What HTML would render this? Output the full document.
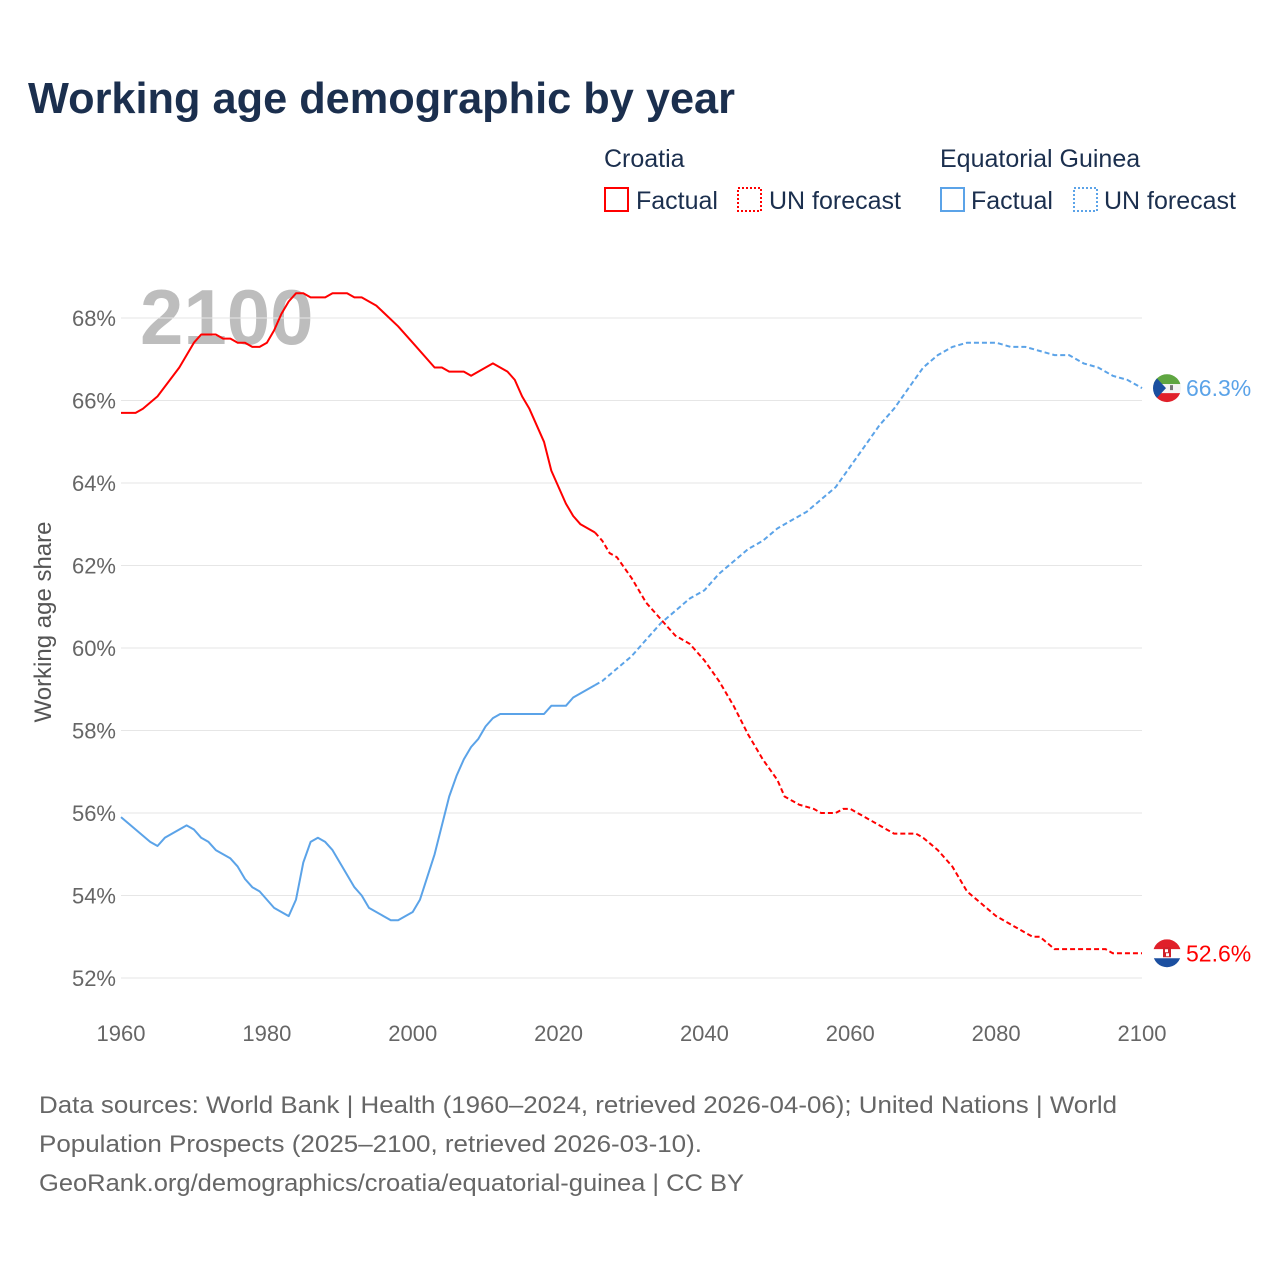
<!DOCTYPE html>
<html><head><meta charset="utf-8">
<style>
body{margin:0;background:#fff;width:1280px;height:1280px;overflow:hidden;font-family:"Liberation Sans",sans-serif}
svg text{font-family:"Liberation Sans",sans-serif}
</style></head>
<body>
<svg id="chart" width="1280" height="1280" viewBox="0 0 1280 1280">
<text x="28" y="113" font-size="44" font-weight="bold" fill="#1b2f4e" textLength="707" lengthAdjust="spacingAndGlyphs">Working age demographic by year</text>
<g font-size="25" fill="#1b2f4e">
<text x="604" y="167">Croatia</text>
<text x="940" y="167">Equatorial Guinea</text>
<g><rect x="605" y="188" width="23" height="23" fill="none" stroke="#f00" stroke-width="2"/><text x="636" y="209">Factual</text></g>
<g><rect x="738" y="188" width="23" height="23" fill="none" stroke="#f00" stroke-width="2" stroke-dasharray="2,2"/><text x="769" y="209">UN forecast</text></g>
<g><rect x="941" y="188" width="23" height="23" fill="none" stroke="#5ba3e8" stroke-width="2"/><text x="971" y="209">Factual</text></g>
<g><rect x="1074" y="188" width="23" height="23" fill="none" stroke="#5ba3e8" stroke-width="2" stroke-dasharray="2,2"/><text x="1104" y="209">UN forecast</text></g>
</g>
<text x="140" y="344" font-size="78" font-weight="bold" fill="#bdbdbd">2100</text>
<text transform="translate(51,622) rotate(-90)" text-anchor="middle" font-size="24" fill="#555">Working age share</text>
<g id="grid"></g><g id="lines"></g><g id="labels"></g>
<g font-size="24" fill="#666">
<text x="39" y="1113" textLength="1078" lengthAdjust="spacingAndGlyphs">Data sources: World Bank | Health (1960–2024, retrieved 2026-04-06); United Nations | World</text>
<text x="39" y="1152" textLength="663" lengthAdjust="spacingAndGlyphs">Population Prospects (2025–2100, retrieved 2026-03-10).</text>
<text x="39" y="1191" textLength="705" lengthAdjust="spacingAndGlyphs">GeoRank.org/demographics/croatia/equatorial-guinea | CC BY</text>
</g>
</svg>
<script>
const yTicks=[52,54,56,58,60,62,64,66,68];
const xTicks=[1960,1980,2000,2020,2040,2060,2080,2100];
const hrYears=[1960,1962,1963,1965,1968,1970,1971,1973,1974,1975,1976,1977,1978,1979,1980,1981,1982,1983,1984,1985,1986,1988,1989,1991,1992,1993,1995,1998,2000,2003,2004,2005,2007,2008,2010,2011,2013,2014,2015,2016,2018,2019,2021,2022,2023,2025,2026,2027,2028,2030,2032,2034,2036,2038,2040,2042,2044,2046,2048,2050,2051,2053,2055,2056,2058,2059,2060,2062,2064,2066,2069,2070,2072,2074,2076,2078,2080,2082,2085,2086,2088,2090,2095,2096,2100];
const hrVals=[65.7,65.7,65.8,66.1,66.8,67.4,67.6,67.6,67.5,67.5,67.4,67.4,67.3,67.3,67.4,67.7,68.1,68.4,68.6,68.6,68.5,68.5,68.6,68.6,68.5,68.5,68.3,67.8,67.4,66.8,66.8,66.7,66.7,66.6,66.8,66.9,66.7,66.5,66.1,65.8,65.0,64.3,63.5,63.2,63.0,62.8,62.6,62.3,62.2,61.7,61.1,60.7,60.3,60.1,59.7,59.2,58.6,57.9,57.3,56.8,56.4,56.2,56.1,56.0,56.0,56.1,56.1,55.9,55.7,55.5,55.5,55.4,55.1,54.7,54.1,53.8,53.5,53.3,53.0,53.0,52.7,52.7,52.7,52.6,52.6];
const gqYears=[1960,1962,1964,1965,1966,1968,1969,1970,1971,1972,1973,1975,1976,1977,1978,1979,1981,1983,1984,1985,1986,1987,1988,1989,1990,1992,1993,1994,1996,1997,1998,2000,2001,2003,2005,2006,2007,2008,2009,2010,2011,2012,2018,2019,2021,2022,2025,2026,2028,2030,2032,2034,2036,2038,2040,2042,2044,2046,2048,2050,2052,2054,2056,2058,2060,2062,2064,2066,2068,2070,2072,2074,2076,2080,2082,2084,2086,2088,2090,2092,2094,2096,2098,2100];
const gqVals=[55.9,55.6,55.3,55.2,55.4,55.6,55.7,55.6,55.4,55.3,55.1,54.9,54.7,54.4,54.2,54.1,53.7,53.5,53.9,54.8,55.3,55.4,55.3,55.1,54.8,54.2,54.0,53.7,53.5,53.4,53.4,53.6,53.9,55.0,56.4,56.9,57.3,57.6,57.8,58.1,58.3,58.4,58.4,58.6,58.6,58.8,59.1,59.2,59.5,59.8,60.2,60.6,60.9,61.2,61.4,61.8,62.1,62.4,62.6,62.9,63.1,63.3,63.6,63.9,64.4,64.9,65.4,65.8,66.3,66.8,67.1,67.3,67.4,67.4,67.3,67.3,67.2,67.1,67.1,66.9,66.8,66.6,66.5,66.3];
const lastFactual=2025;
const X=y=>121+(y-1960)*(1142-121)/140;
const Y=v=>978-(v-52)*(978-318)/16;
const NS='http://www.w3.org/2000/svg';
function mk(tag,attrs,parent){const e=document.createElementNS(NS,tag);for(const k in attrs)e.setAttribute(k,attrs[k]);parent.appendChild(e);return e;}
const grid=document.getElementById('grid'),lines=document.getElementById('lines'),labels=document.getElementById('labels');
yTicks.forEach(t=>{
 const l=mk('line',{x1:121,x2:1142,y1:Y(t),y2:Y(t),stroke:'#e6e6e6','stroke-width':1},grid);
 
 
 const tx=mk('text',{x:116,y:Y(t)+8,'text-anchor':'end','font-size':22,fill:'#666'},grid);
 tx.textContent=t+'%';
 
 
});
xTicks.forEach(t=>{
 const tx=mk('text',{x:X(t),y:1041,'text-anchor':'middle','font-size':22,fill:'#666'},grid);
 tx.textContent=t;
 
 
});
function series(years,vals,color,name){
 const f=[],p=[];
 years.forEach((y,i)=>{const pt=X(y).toFixed(1)+','+Y(vals[i]).toFixed(1);if(y<=lastFactual)f.push(pt);if(y>=lastFactual)p.push(pt);});
 const a=mk('polyline',{points:f.join(' '),fill:'none',stroke:color,'stroke-width':2,'stroke-linejoin':'round'},lines);
 
 
 const b=mk('polyline',{points:p.join(' '),fill:'none',stroke:color,'stroke-width':2,'stroke-dasharray':'5,3'},lines);
 
 
 const v=vals[vals.length-1];
 const t=mk('text',{x:1186,y:Y(v)+8,'font-size':23,fill:color},labels);
 t.textContent=v.toFixed(1)+'%';
 
 
 return Y(v);
}
const yg=series(gqYears,gqVals,'#5ba3e8','eqguinea');
const yh=series(hrYears,hrVals,'#f00','croatia');
function flag(cy,kind){
 const g=mk('g',{},labels);
 
 
 const id='c'+kind;
 const cp=mk('clipPath',{id:id},g);mk('circle',{cx:1167,cy:cy,r:14},cp);
 const h=mk('g',{'clip-path':'url(#'+id+')'},g);
 if(kind==='croatia'){
  mk('rect',{x:1153,y:cy-14,width:28,height:10,fill:'#e0202a'},h);
  mk('rect',{x:1153,y:cy-4,width:28,height:9,fill:'#fff'},h);
  mk('rect',{x:1153,y:cy+5,width:28,height:10,fill:'#1b4fa0'},h);
  mk('rect',{x:1163,y:cy-6,width:8,height:10,fill:'#d0202a'},h);
  mk('rect',{x:1165,y:cy-4,width:3,height:3,fill:'#fff'},h);
  mk('rect',{x:1166,y:cy,width:3,height:3,fill:'#fff'},h);
 }else{
  mk('rect',{x:1153,y:cy-14,width:28,height:10,fill:'#5fa641'},h);
  mk('rect',{x:1153,y:cy-4,width:28,height:9,fill:'#f4f4f4'},h);
  mk('rect',{x:1153,y:cy+5,width:28,height:10,fill:'#e0202a'},h);
  mk('polygon',{points:`1153,${cy-14} 1166,${cy} 1153,${cy+14}`,fill:'#1b4fa0'},h);
  mk('rect',{x:1170,y:cy-3,width:3,height:5,fill:'#777'},h);
 }
}
flag(yg,'eqguinea');flag(yh,'croatia');
</script>
</body></html>
